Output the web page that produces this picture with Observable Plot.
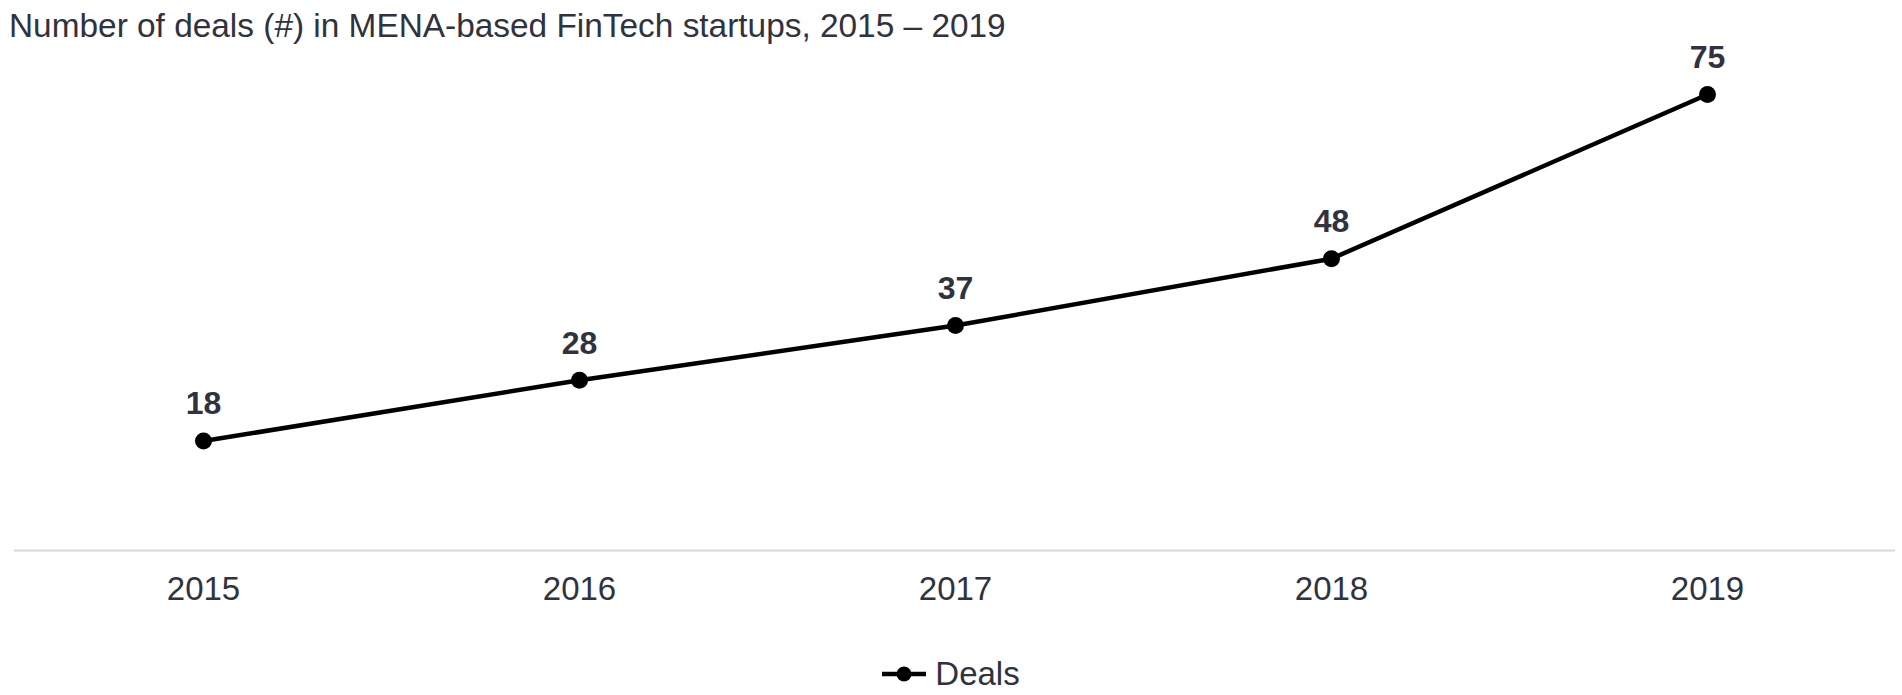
<!DOCTYPE html>
<html>
<head>
<meta charset="utf-8">
<script src="https://cdn.jsdelivr.net/npm/d3@7"></script>
<script src="https://cdn.jsdelivr.net/npm/@observablehq/plot@0.6"></script>
<style>
  html, body { margin: 0; padding: 0; background: #fff; }
  body { width: 1902px; height: 695px; overflow: hidden; font-family: "Liberation Sans", Arial, sans-serif; color: #30323e; }
  #title { font-size: 33.4px; line-height: 33px; padding: 9px 0 0 9px; height: 21px; overflow: visible; white-space: nowrap; position: relative; z-index: 1; }
  #legend { display: flex; justify-content: center; align-items: center; margin-top: 40px; height: 28px; font-size: 33px; line-height: 28px; }
  #legend svg { margin-right: 9px; }
</style>
</head>
<body>
<div id="title">Number of deals (#) in MENA-based FinTech startups, 2015 – 2019</div>
<div id="chart"></div>
<div id="legend"></div>
<script>
const years = ["2015", "2016", "2017", "2018", "2019"];
const deals = [18, 28, 37, 48, 75];
const seriesName = "Deals";

const data = years.map((year, i) => ({year, deals: deals[i]}));

const chart = Plot.plot({
  width: 1902,
  height: 590,
  marginLeft: 14,
  marginRight: 7,
  marginTop: 64,
  marginBottom: 70,
  x: {type: "point", domain: years, padding: 0.5, label: null},
  y: {domain: [0, 75], axis: null},
  style: {fontFamily: "'Liberation Sans', Arial, sans-serif", fontSize: "33px", color: "#30323e", background: "transparent", overflow: "visible"},
  marks: [
    Plot.ruleY([0], {stroke: "#d9d9d9", strokeWidth: 2}),
    Plot.axisX({tickSize: 0, tickPadding: 26, fontSize: 33, label: null}),
    Plot.line(data, {x: "year", y: "deals", stroke: "black", strokeWidth: 4.5}),
    Plot.dot(data, {x: "year", y: "deals", r: 8.5, fill: "black"}),
    Plot.text(data, {x: "year", y: "deals", text: d => String(d.deals), dy: -37, fontSize: 32, fontWeight: "bold", fill: "#30323e"})
  ]
});
document.getElementById("chart").appendChild(chart);

const legend = document.getElementById("legend");
legend.innerHTML = `<svg width="44" height="20" viewBox="0 0 44 20"><line x1="0" y1="10" x2="44" y2="10" stroke="black" stroke-width="4.5"/><circle cx="22" cy="10" r="7.5" fill="black"/></svg><span>${seriesName}</span>`;
</script>
</body>
</html>
